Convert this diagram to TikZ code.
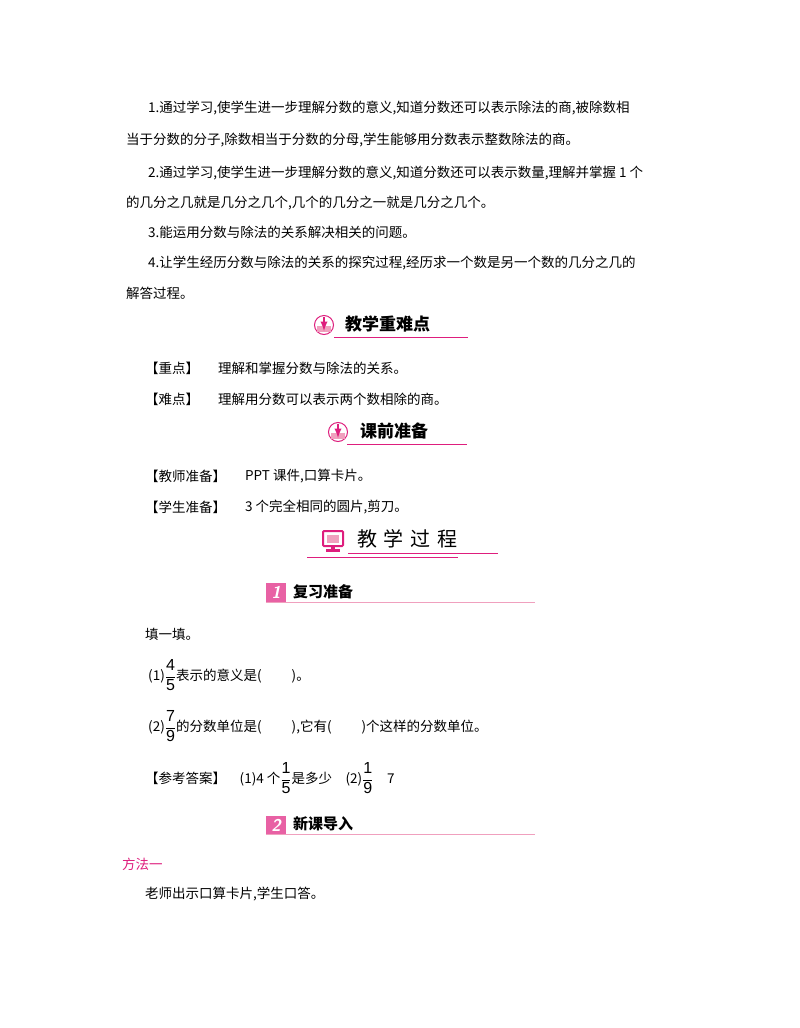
\documentclass[tikz,border=0pt]{standalone}
\usepackage{fontspec}
\setmainfont{Noto Sans CJK SC}
\newfontfamily\numf{Liberation Sans}
\definecolor{pk}{RGB}{222,30,125}
\definecolor{lpk}{RGB}{240,160,190}
\newcommand\myfr[2]{$\displaystyle\frac{\hbox{\numf\fontsize{16}{16}\selectfont #1}}{\hbox{\numf\fontsize{16}{16}\selectfont #2}}$}
\begin{document}
\begin{tikzpicture}[x=1pt,y=-1pt,
 tx/.style={anchor=west,inner sep=0pt,font=\fontsize{13.5}{14}\selectfont},
 hd/.style={anchor=west,inner sep=0pt,font=\fontsize{17}{18}\selectfont\bfseries},
 ul/.style={draw=pk,line width=1pt}]
\useasboundingbox (0,0) rectangle (800,1028);
\node[tx] (l1) at (148,108) {1.通过学习,使学生进一步理解分数的意义,知道分数还可以表示除法的商,被除数相};
\node[tx] (l2) at (126,140) {当于分数的分子,除数相当于分数的分母,学生能够用分数表示整数除法的商。};
\node[tx] (l3) at (148,173) {2.通过学习,使学生进一步理解分数的意义,知道分数还可以表示数量,理解并掌握 1 个};
\node[tx] (l4) at (126,203) {的几分之几就是几分之几个,几个的几分之一就是几分之几个。};
\node[tx] (l5) at (148,232) {3.能运用分数与除法的关系解决相关的问题。};
\node[tx] (l6) at (148,263) {4.让学生经历分数与除法的关系的探究过程,经历求一个数是另一个数的几分之几的};
\node[tx] (l7) at (126,293) {解答过程。};
% heading 1
\node[circle,draw=pk,line width=1pt,fill=white,minimum size=19pt,inner sep=0pt] (i1) at (324,325) {};
\fill[lpk] (317,326) rectangle (331,332);
\draw[pk,line width=2.2pt,-latex] (324,317) -- (324,331);
\node[hd] (h1) at (345,324) {教学重难点};
\draw[ul] (334,337) -- (468,337);
\node[tx] (z1) at (145,368) {【重点】};
\node[tx] (z1t) at (218,368) {理解和掌握分数与除法的关系。};
\node[tx] (z2) at (145,399) {【难点】};
\node[tx] (z2t) at (218,399) {理解用分数可以表示两个数相除的商。};
% heading 2
\node[circle,draw=pk,line width=1pt,fill=white,minimum size=19pt,inner sep=0pt] (i2) at (338,432) {};
\fill[lpk] (331,433) rectangle (345,439);
\draw[pk,line width=2.2pt,-latex] (338,424) -- (338,438);
\node[hd] (h2) at (360,431) {课前准备};
\draw[ul] (347,444) -- (467,444);
\node[tx] (p1) at (145,476) {【教师准备】};
\node[tx] (p1t) at (245,476) {PPT 课件,口算卡片。};
\node[tx] (p2) at (145,507) {【学生准备】};
\node[tx] (p2t) at (245,507) {3 个完全相同的圆片,剪刀。};
% heading 3
\draw[pk,line width=2pt,fill=white,rounded corners=1pt] (323,531) rectangle (343,546);
\fill[lpk] (327,535) rectangle (339,543);
\fill[pk] (331,546) rectangle (335,549);
\fill[pk] (326,549) rectangle (340,552);
\node[anchor=west,inner sep=0pt,font=\fontsize{20}{22}\selectfont] (h3) at (357,539) {教\,\,学\,\,过\,\,程};
\draw[ul,line width=0.8pt] (348,553) -- (498,553);
\draw[ul,line width=0.8pt] (307,557) -- (458,557);
% section 1
\fill[pk!70] (266,583) rectangle (286,602);
\node[inner sep=0pt,text=white,font=\fontsize{17}{18}\selectfont\bfseries\itshape\sffamily] (n1) at (276,592) {1};
\node[hd,font=\fontsize{15}{16}\selectfont\bfseries] (s1) at (293,592) {复习准备};
\draw[draw=lpk,line width=1.5pt] (266,602.5) -- (535,602.5);
\node[tx] (f0) at (145,634) {填一填。};
\node[tx] (f1) at (148,675) {(1)\myfr{4}{5}表示的意义是(\qquad\ )。};
\node[tx] (f2) at (148,726) {(2)\myfr{7}{9}的分数单位是(\qquad\ ),它有(\qquad\ )个这样的分数单位。};
\node[tx] (ans) at (145,778) {【参考答案】\quad (1)4 个\myfr{1}{5}是多少\quad (2)\myfr{1}{9}\quad 7};
% section 2
\fill[pk!70] (266,816) rectangle (286,835);
\node[inner sep=0pt,text=white,font=\fontsize{17}{18}\selectfont\bfseries\itshape\sffamily] (n2) at (276,825) {2};
\node[hd,font=\fontsize{15}{16}\selectfont\bfseries] (s2) at (293,824) {新课导入};
\draw[draw=lpk,line width=1.5pt] (266,834.5) -- (535,834.5);
\node[tx,text=pk] (m1) at (122,864) {方法一};
\node[tx] (m2) at (145,894) {老师出示口算卡片,学生口答。};
\end{tikzpicture}
\end{document}
